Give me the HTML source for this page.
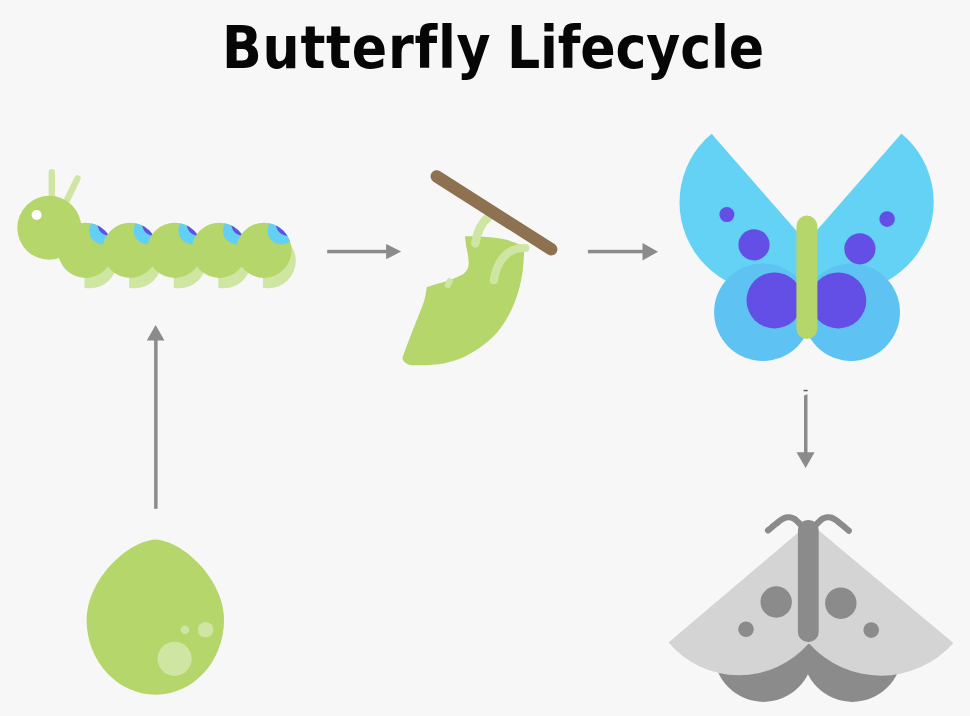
<!DOCTYPE html>
<html lang="en">
<head>
<meta charset="utf-8">
<title>Butterfly Lifecycle</title>
<style>
  html, body { margin: 0; padding: 0; background: #f7f7f7; }
  body { width: 970px; height: 716px; overflow: hidden; position: relative; font-family: "Liberation Sans", sans-serif; }
  h1 { position: absolute; left: 0; top: 0; width: 970px; margin: 0; font-family: "DejaVu Sans Condensed", "Liberation Sans", sans-serif; font-variant-ligatures: none; font-weight: bold; font-size: 58px; line-height: 1; color: #060606; white-space: nowrap; }
  h1 span { position: absolute; top: 18.8px; }
  h1 .w1 { left: 222px; letter-spacing: 0.75px; }
  h1 .w2 { left: 506.9px; letter-spacing: -0.14px; }
  svg { position: absolute; left: 0; top: 0; display: block; }
</style>
</head>
<body>
<h1><span class="w1" id="title">Butterfly </span><span class="w2" id="t2">Lifecycle</span></h1>
<svg width="970" height="716" viewBox="0 0 970 716">
  <defs>
    <clipPath id="seg"><circle cx="0" cy="0" r="27.6"/></clipPath>
    <clipPath id="foot"><rect x="-1" y="-40" width="60" height="90"/></clipPath>
    <clipPath id="spotc"><circle cx="17.6" cy="-19.9" r="14"/></clipPath>
    <g id="segment">
      <g clip-path="url(#foot)"><circle cx="4.3" cy="10.4" r="27.6" fill="#cfe6a3"/></g>
      <circle cx="0" cy="0" r="27.6" fill="#b5d66b"/>
      <g clip-path="url(#seg)">
        <circle cx="17.6" cy="-19.9" r="14" fill="#62d0f4"/>
        <g clip-path="url(#spotc)"><circle cx="23.6" cy="-26.2" r="11.6" fill="#6450e0"/></g>
      </g>
    </g>
    <clipPath id="wl"><polygon points="678.6,96.1 876.1,321.9 600,600 500,0"/></clipPath>
    <clipPath id="wr"><polygon points="934.5,95.8 737,321.6 1000,600 1100,0"/></clipPath>
  </defs>

  <!-- caterpillar -->
  <g id="caterpillar">
    <line x1="51.8" y1="172.2" x2="51.8" y2="200" stroke="#cfe6a3" stroke-width="6.4" stroke-linecap="round"/>
    <line x1="77.5" y1="178.3" x2="66" y2="202" stroke="#cfe6a3" stroke-width="6.4" stroke-linecap="round"/>
    <use href="#segment" x="85.5" y="250.3"/>
    <use href="#segment" x="130.1" y="250.3"/>
    <use href="#segment" x="174.7" y="250.3"/>
    <use href="#segment" x="219.3" y="250.3"/>
    <use href="#segment" x="263.9" y="250.3"/>
    <circle cx="49.3" cy="227.8" r="32" fill="#b5d66b"/>
    <circle cx="36.6" cy="215" r="5" fill="#ffffff"/>
  </g>

  <!-- arrows -->
  <g fill="#8b8b8b" stroke="none">
    <rect x="327.2" y="249.8" width="60" height="3.5"/>
    <polygon points="386.1,243.9 401.2,251.6 386.1,259.3"/>
    <rect x="587.9" y="249.8" width="56" height="3.5"/>
    <polygon points="642.5,242.9 658,251.7 642.5,260.6"/>
    <polygon points="804,395.6 807.5,394.2 807.5,453 804,453"/>
    <rect x="803.6" y="389.8" width="4" height="1.5" fill="#5a5a5a"/>
    <polygon points="796.5,452.2 814.6,452.2 805.6,468"/>
    <rect x="154.1" y="339" width="3.5" height="169.8"/>
    <polygon points="146.8,340.5 164.5,340.5 155.6,325.1"/>
  </g>

  <!-- chrysalis -->
  <g id="chrysalis">
    <path d="M465.0,236.3 C468.2,236.4 477.6,236.2 484.3,236.7 C491.0,237.2 498.6,237.8 505.3,239.4 C512.0,241.0 521.1,245.2 524.2,246.4 C524.2,247.2 524.5,246.8 524.2,251.0 C523.9,255.2 523.5,264.9 522.5,271.9 C521.5,278.9 520.1,285.9 517.9,292.9 C515.7,299.9 513.0,307.2 509.5,313.8 C506.0,320.4 501.8,327.1 496.9,332.7 C492.0,338.3 486.4,343.0 480.1,347.4 C473.8,351.8 466.2,356.1 459.2,358.9 C452.2,361.7 445.2,363.1 438.2,364.2 C431.2,365.2 422.4,365.2 417.3,365.2 C412.2,365.2 410.2,365.2 407.8,364.2 C405.4,363.1 403.1,361.0 402.6,358.9 C402.1,356.8 403.3,355.6 404.7,351.6 C406.1,347.6 408.6,341.1 411.0,334.8 C413.4,328.5 417.0,319.7 419.3,313.8 C421.6,307.9 423.4,303.6 424.6,299.2 C425.8,294.8 426.4,289.3 426.7,287.3 C428.6,286.7 434.2,284.7 438.2,283.5 C442.2,282.3 447.3,281.1 450.8,279.9 C454.3,278.7 456.9,277.2 459.2,276.1 C461.5,275.0 462.9,274.4 464.4,273.0 C465.9,271.6 467.3,269.6 468.0,267.7 C468.7,265.8 468.7,263.8 468.6,261.4 C468.5,259.0 468.1,255.9 467.6,253.1 C467.2,250.3 466.3,247.5 465.9,244.7 C465.5,241.9 465.1,237.7 465.0,236.3 Z" fill="#b5d66b"/>
    <path d="M489,216.5 C482,222 477,232 475.3,243.3" fill="none" stroke="#cfe6a3" stroke-width="8.6" stroke-linecap="round"/>
    <path d="M525.3,248 C508,247.5 497,260 493.8,280" fill="none" stroke="#cfe6a3" stroke-width="8.2" stroke-linecap="round"/>
    <line x1="449.6" y1="281.2" x2="447.8" y2="285" stroke="#cfe6a3" stroke-width="6.2" stroke-linecap="round"/>
    <line x1="436.8" y1="176.4" x2="551.2" y2="249.3" stroke="#8d7151" stroke-width="12.4" stroke-linecap="round"/>
  </g>

  <!-- butterfly -->
  <g id="butterfly">
    <g clip-path="url(#wl)"><circle cx="769" cy="202.3" r="89.5" fill="#64d2f4"/></g>
    <g clip-path="url(#wr)"><circle cx="844.2" cy="202.3" r="89.5" fill="#64d2f4"/></g>
    <circle cx="762.8" cy="312.2" r="48.7" fill="#5ec2f2"/>
    <circle cx="851.3" cy="312.2" r="48.7" fill="#5ec2f2"/>
    <circle cx="774.5" cy="300.4" r="28" fill="#644fe6"/>
    <circle cx="838.3" cy="300.4" r="28" fill="#644fe6"/>
    <circle cx="754" cy="244.8" r="15.6" fill="#644fe6"/>
    <circle cx="859.9" cy="248.8" r="15.6" fill="#644fe6"/>
    <circle cx="726.9" cy="214.6" r="7.5" fill="#644fe6"/>
    <circle cx="887.1" cy="219.1" r="7.8" fill="#644fe6"/>
    <rect x="796.4" y="215.6" width="21" height="123.5" rx="10.5" fill="#b5d66b"/>
  </g>

  <!-- moth -->
  <g id="moth">
    <circle cx="763.5" cy="652.3" r="49.6" fill="#8b8b8b"/>
    <circle cx="852.4" cy="652.3" r="49.6" fill="#8b8b8b"/>
    <path d="M668.5,642.5 L808.3,524 L808.9,643.3 A92.5,92.5 0 0 1 668.5,642.5 Z" fill="#d4d4d4"/>
    <path d="M953.4,643 L808.3,521.8 L808.9,643.3 A96.5,96.5 0 0 0 953.4,643 Z" fill="#d4d4d4"/>
    <path d="M768.0,530.4 C768.5,530.0 769.7,529.0 771.2,527.8 C772.7,526.6 774.9,524.6 776.8,523.2 C778.6,521.8 780.8,520.1 782.3,519.2 C783.8,518.3 784.8,517.9 786.0,517.6 C787.2,517.3 788.2,517.1 789.6,517.3 C791.0,517.5 793.2,518.2 794.6,519.0 C796.0,519.8 796.8,520.8 798.0,522.0 C799.2,523.2 801.3,525.3 802.0,526.0" fill="none" stroke="#8b8b8b" stroke-width="6.2" stroke-linecap="round" stroke-linejoin="round"/>
    <path d="M848.8,530.7 C848.2,530.2 847.0,529.0 845.5,527.8 C844.0,526.5 841.8,524.6 839.9,523.2 C838.1,521.8 835.9,520.1 834.4,519.2 C832.9,518.3 831.9,517.9 830.7,517.6 C829.5,517.3 828.5,517.1 827.1,517.3 C825.7,517.5 823.5,518.2 822.1,519.0 C820.7,519.8 819.9,520.8 818.7,522.0 C817.5,523.2 815.4,525.3 814.7,526.0" fill="none" stroke="#8b8b8b" stroke-width="6.2" stroke-linecap="round" stroke-linejoin="round"/>
    <rect x="797.9" y="519.9" width="20.8" height="122" rx="10" fill="#8b8b8b"/>
    <circle cx="776.2" cy="602" r="15.7" fill="#8b8b8b"/>
    <circle cx="840.8" cy="603.2" r="15.7" fill="#8b8b8b"/>
    <circle cx="746" cy="629.2" r="7.8" fill="#8b8b8b"/>
    <circle cx="871.2" cy="630.1" r="7.8" fill="#8b8b8b"/>
  </g>

  <!-- egg -->
  <g id="egg">
    <path d="M155.5,539.6 C183.5,541.1 224.0,580.0 224.0,620.0 C224.0,661.2 193.4,694.7 155.5,694.7 C117.6,694.7 86.6,661.2 86.6,620.0 C86.6,580.0 127.5,541.1 155.5,539.6 Z" fill="#b5d66b"/>
    <circle cx="174.6" cy="658.8" r="17.1" fill="#cfe6a3"/>
    <circle cx="205.6" cy="629.8" r="7.8" fill="#cfe6a3"/>
    <circle cx="184.9" cy="629.8" r="4.3" fill="#cfe6a3"/>
  </g>
</svg>
</body>
</html>
